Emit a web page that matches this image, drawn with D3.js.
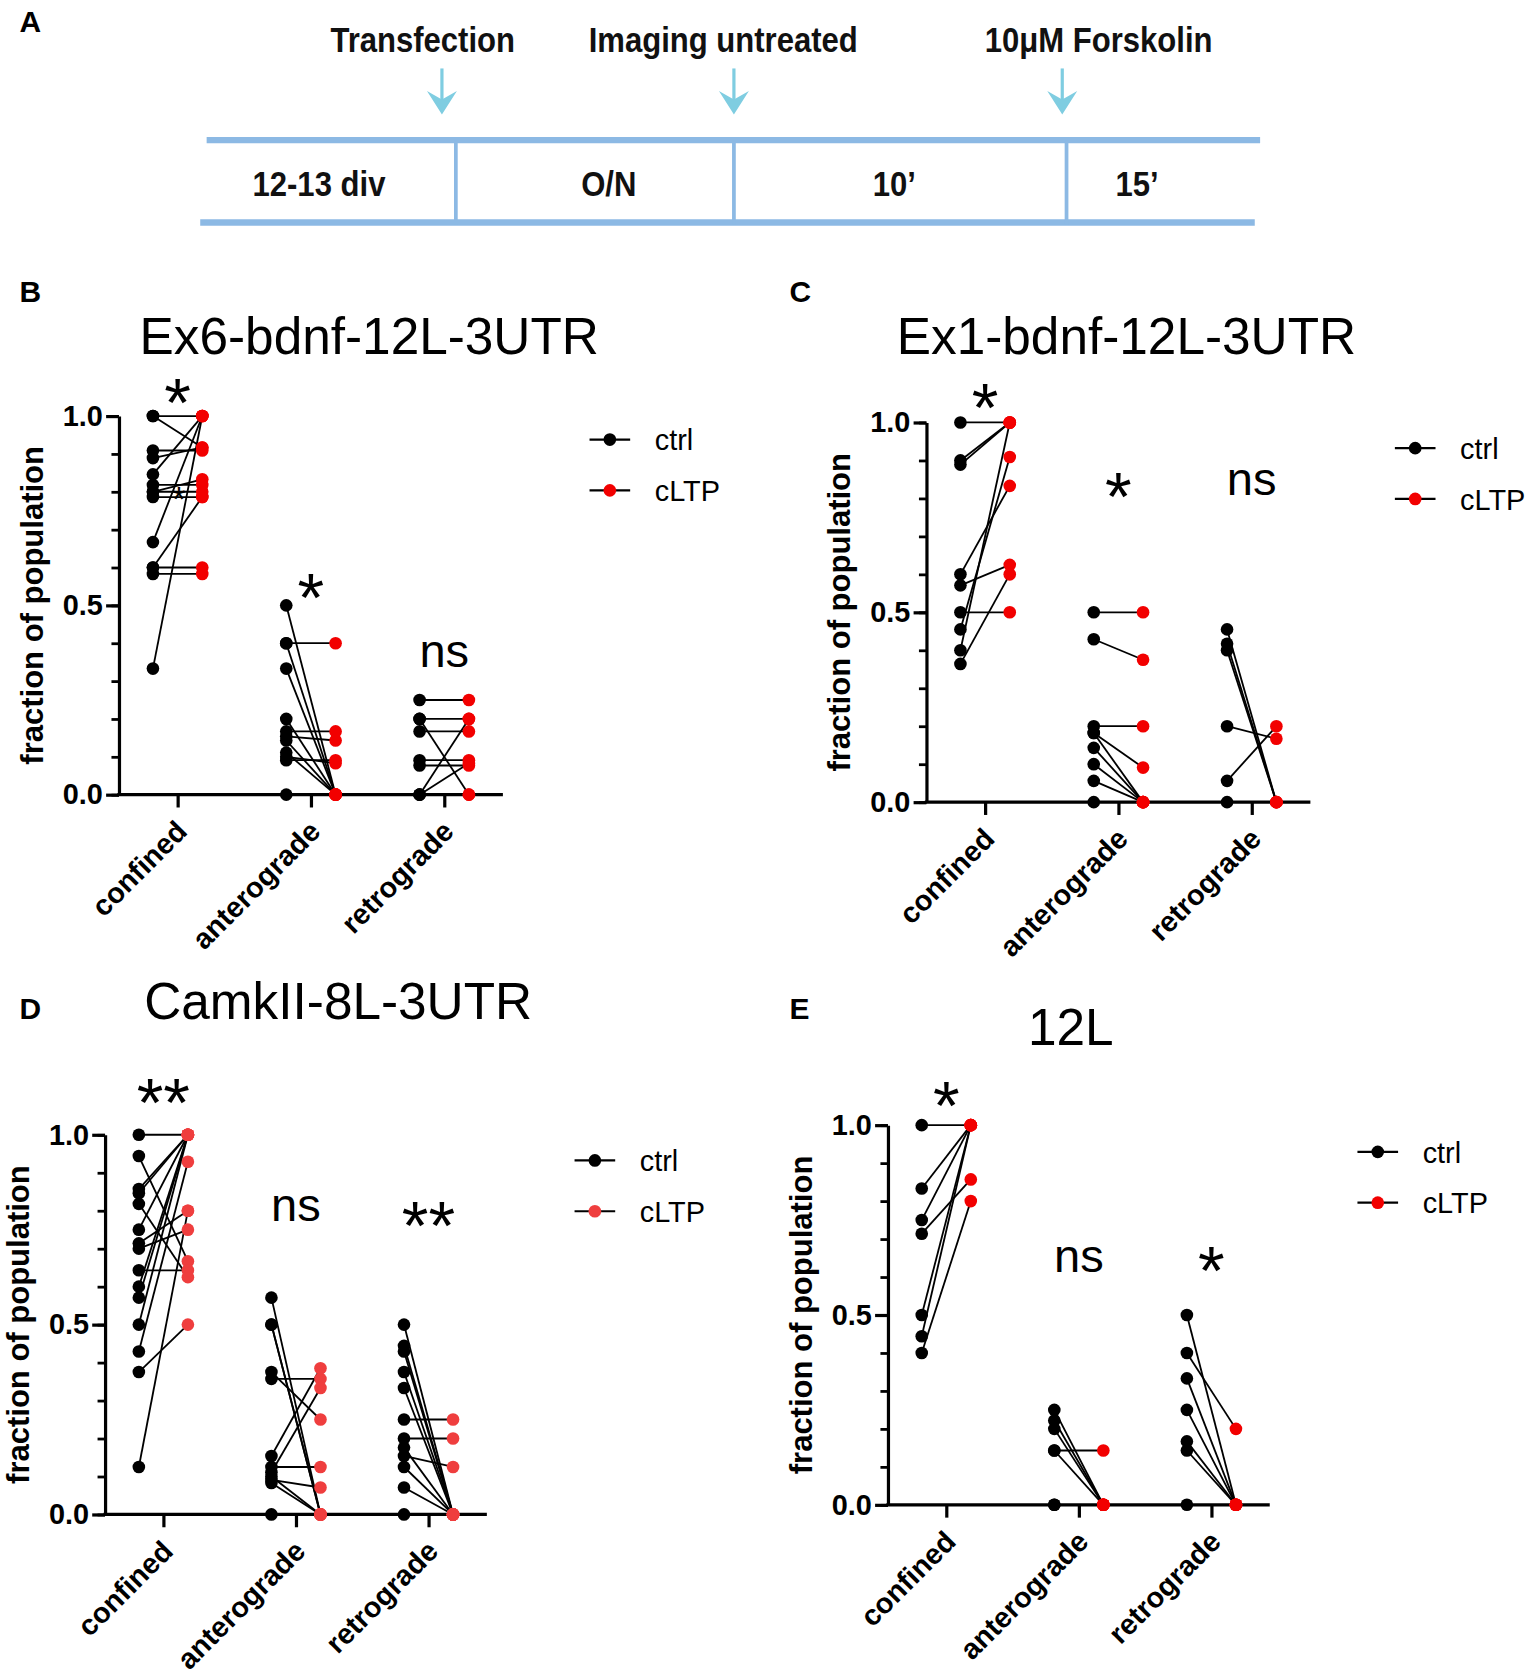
<!DOCTYPE html>
<html>
<head>
<meta charset="utf-8">
<script src="https://cdn.jsdelivr.net/npm/d3@7"></script>
<style>
  body { margin: 0; background: #fff; }
  svg { display: block; }
</style>
</head>
<body>
<div id="fig"></div>
<script>
// ---------- data ----------
var categories = ["confined", "anterograde", "retrograde"];
var seriesNames = ["ctrl", "cLTP"];
var panelTitles = ["Ex6-bdnf-12L-3UTR", "Ex1-bdnf-12L-3UTR", "CamkII-8L-3UTR", "12L"];
var yTitle = "fraction of population";
var majorTicks = [0, 0.5, 1];
var minorTicks = [0, 0.1, 0.2, 0.3, 0.4, 0.5, 0.6, 0.7, 0.8, 0.9, 1];

// panel A timeline
var eventLabels = ["Transfection", "Imaging untreated", "10\u03bcM Forskolin"];
var periodLabels = ["12-13 div", "O/N", "10\u2019", "15\u2019"];

// B  (each row = one category, ctrl[i][j] pairs with ltp[i][j])
var bCtrl = [
  [1.0, 1.0, 0.909, 0.889, 0.846, 0.818, 0.8, 0.8, 0.786, 0.667, 0.6, 0.6, 0.583, 0.333],
  [0.5, 0.4, 0.4, 0.333, 0.2, 0.167, 0.154, 0.143, 0.111, 0.1, 0.091, 0.0],
  [0.25, 0.2, 0.2, 0.167, 0.091, 0.077, 0.0, 0.0, 0.0]
];
var bLtp = [
  [1.0, 0.917, 0.909, 0.917, 1.0, 0.818, 0.8, 0.833, 0.786, 1.0, 0.6, 0.786, 0.583, 1.0],
  [0.0, 0.4, 0.0, 0.0, 0.0, 0.167, 0.143, 0.0, 0.0, 0.083, 0.091, 0.0],
  [0.25, 0.2, 0.0, 0.167, 0.091, 0.077, 0.2, 0.083, 0.0]
];
var bSig = ["*", "*", "ns"];

// C
var cCtrl = [
  [1.0, 0.9, 0.889, 0.6, 0.571, 0.5, 0.455, 0.4, 0.364],
  [0.5, 0.429, 0.2, 0.182, 0.182, 0.143, 0.1, 0.056, 0.0],
  [0.455, 0.417, 0.4, 0.2, 0.056, 0.0]
];
var cLtp = [
  [1.0, 1.0, 1.0, 0.833, 0.625, 0.5, 0.909, 1.0, 0.6],
  [0.5, 0.375, 0.2, 0.091, 0.0, 0.0, 0.0, 0.0, 0.0],
  [0.0, 0.0, 0.0, 0.167, 0.2, 0.0]
];
var cSig = ["*", "*", "ns"];

// D
var dCtrl = [
  [1.0, 0.944, 0.857, 0.846, 0.818, 0.75, 0.714, 0.7, 0.643, 0.6, 0.571, 0.5, 0.429, 0.375, 0.125],
  [0.571, 0.5, 0.5, 0.375, 0.357, 0.154, 0.125, 0.111, 0.1, 0.091, 0.083, 0.0],
  [0.5, 0.444, 0.429, 0.375, 0.333, 0.25, 0.2, 0.176, 0.154, 0.125, 0.071, 0.0]
];
var dLtp = [
  [1.0, 0.667, 1.0, 1.0, 0.625, 1.0, 0.8, 0.75, 0.643, 1.0, 1.0, 1.0, 0.929, 0.5, 0.8],
  [0.0, 0.0, 0.0, 0.25, 0.357, 0.385, 0.125, 0.333, 0.0, 0.071, 0.0, 0.0],
  [0.0, 0.0, 0.0, 0.0, 0.0, 0.25, 0.2, 0.0, 0.125, 0.0, 0.0, 0.0]
];
var dSig = ["**", "ns", "**"];

// E
var eCtrl = [
  [1.0, 0.833, 0.75, 0.714, 0.5, 0.444, 0.4],
  [0.25, 0.222, 0.2, 0.143, 0.143, 0.0, 0.0],
  [0.5, 0.4, 0.333, 0.25, 0.167, 0.143, 0.0]
];
var eLtp = [
  [1.0, 1.0, 1.0, 0.857, 1.0, 1.0, 0.8],
  [0.0, 0.0, 0.0, 0.143, 0.0, 0.0, 0.0],
  [0.0, 0.2, 0.0, 0.0, 0.0, 0.0, 0.0]
];
var eSig = ["*", "ns", "*"];

// ---------- layout ----------
var FONT = "Arial, 'Liberation Sans', sans-serif";
var svg = d3.select("#fig").append("svg")
  .attr("width", 1532).attr("height", 1677)
  .attr("viewBox", "0 0 1432 1568");

// ---------- panel A ----------
(function(){
  var blue = "#8cb9e4", cyan = "#7fcde1";
  var gA = svg.append("g");
  gA.append("text").attr("x", 18).attr("y", 30).text("A")
    .attr("font-family", FONT).attr("font-weight", "bold").attr("font-size", 28);

  var bounds = [190, 426, 686, 997, 1176];   // period boundaries
  var arrowX = [413, 686, 993];
  var eventX = [395, 676, 1027];
  var periodX = [298, 569, 836, 1063];

  // timeline rails
  gA.append("line").attr("x1", 193).attr("x2", 1178).attr("y1", 131).attr("y2", 131)
    .attr("stroke", blue).attr("stroke-width", 6);
  gA.append("line").attr("x1", 187).attr("x2", 1173).attr("y1", 208).attr("y2", 208)
    .attr("stroke", blue).attr("stroke-width", 6);
  gA.selectAll(".div").data(bounds.slice(1, 4)).enter().append("line")
    .attr("x1", function(d){ return d; }).attr("x2", function(d){ return d; })
    .attr("y1", 131).attr("y2", 210)
    .attr("stroke", blue).attr("stroke-width", 3.5);

  // arrows
  var arr = gA.selectAll(".arr").data(arrowX).enter().append("g")
    .attr("transform", function(d){ return "translate(" + d + ",0)"; });
  arr.append("line").attr("y1", 64).attr("y2", 96).attr("stroke", cyan).attr("stroke-width", 3);
  arr.append("path").attr("d", "M-14,85 L0,107 L14,85 L0,93 Z").attr("fill", cyan);

  function condensed(sel, xs, y) {
    sel.enter().append("text")
      .attr("transform", function(d, i){ return "translate(" + xs[i] + "," + y + ") scale(0.88,1)"; })
      .attr("text-anchor", "middle")
      .attr("font-family", FONT).attr("font-weight", "bold").attr("font-size", 33)
      .attr("fill", "#111")
      .text(function(d){ return d; });
  }
  condensed(gA.selectAll(".ev").data(eventLabels), eventX, 49);
  condensed(gA.selectAll(".pe").data(periodLabels), periodX, 183);
})();

// ---------- scatter panels ----------
function panel(cfg) {
  var g = svg.append("g");
  var y = d3.scaleLinear().domain([0, 1]).range([cfg.y0, cfg.y1]);
  var x = d3.scalePoint().domain(categories).range([cfg.x0, cfg.x1]).padding(0.44);
  var off = x.step() * 0.185;

  // letter + title
  g.append("text").attr("x", cfg.letter[0]).attr("y", cfg.letter[1]).text(cfg.letter[2])
    .attr("font-family", FONT).attr("font-weight", "bold").attr("font-size", 28);
  g.append("text").attr("x", cfg.title[0]).attr("y", cfg.title[1]).text(cfg.name)
    .attr("text-anchor", "middle").attr("font-family", FONT).attr("font-size", 48);

  // y axis: minor then major
  var minor = g.append("g").attr("transform", "translate(" + cfg.x0 + ",0)")
    .call(d3.axisLeft(y).tickValues(minorTicks).tickSize(7).tickFormat(""));
  minor.select(".domain").remove();
  minor.selectAll(".tick line").attr("stroke-width", 2.6);

  var major = g.append("g").attr("transform", "translate(" + cfg.x0 + ",0)")
    .call(d3.axisLeft(y).tickValues(majorTicks).tickSize(12).tickSizeOuter(0)
      .tickPadding(3).tickFormat(d3.format(".1f")));
  major.attr("font-family", FONT).attr("font-size", 27).attr("font-weight", "bold");
  major.select(".domain").attr("stroke-width", 3);
  major.selectAll(".tick line").attr("stroke-width", 3);

  // x axis
  var xa = g.append("g").attr("transform", "translate(0," + cfg.y0 + ")")
    .call(d3.axisBottom(x).tickSize(12).tickSizeOuter(0));
  xa.attr("font-family", FONT).attr("font-size", 27).attr("font-weight", "bold");
  xa.select(".domain").attr("stroke-width", 3).attr("d", "M" + (cfg.x0 - 1.5) + ",0H" + cfg.x1);
  xa.selectAll(".tick line").attr("stroke-width", 3);
  xa.selectAll(".tick text").attr("y", 0).attr("dy", 0)
    .attr("transform", "translate(10,36) rotate(-45)")
    .style("text-anchor", "end");

  // y title
  var cy = (cfg.y0 + cfg.y1) / 2;
  g.append("text").text(yTitle)
    .attr("transform", "translate(" + (cfg.x0 - 79 + 8) + "," + cy + ") rotate(-90)")
    .attr("text-anchor", "middle").attr("font-family", FONT)
    .attr("font-weight", "bold").attr("font-size", 29);

  // pairs
  var pairs = [];
  categories.forEach(function(c, i){
    cfg.ctrl[i].forEach(function(v, j){
      pairs.push({cat: c, a: v, b: cfg.ltp[i][j]});
    });
  });
  g.append("g").selectAll("line").data(pairs).enter().append("line")
    .attr("x1", function(d){ return x(d.cat) - off; })
    .attr("x2", function(d){ return x(d.cat) + off; })
    .attr("y1", function(d){ return y(d.a); })
    .attr("y2", function(d){ return y(d.b); })
    .attr("stroke", "#000").attr("stroke-width", 1.7);
  g.append("g").selectAll("circle").data(pairs).enter().append("circle")
    .attr("cx", function(d){ return x(d.cat) - off; })
    .attr("cy", function(d){ return y(d.a); })
    .attr("r", 5.9).attr("fill", "#000");
  g.append("g").selectAll("circle").data(pairs).enter().append("circle")
    .attr("cx", function(d){ return x(d.cat) + off; })
    .attr("cy", function(d){ return y(d.b); })
    .attr("r", 5.9).attr("fill", cfg.red);

  // significance
  g.selectAll(".sig").data(cfg.sig).enter().append("text")
    .attr("x", function(d, i){ return x(categories[i]); })
    .attr("y", function(d, i){ return d === "ns" ? cfg.sigY[i] + 12 : cfg.sigY[i] + 36; })
    .attr("text-anchor", "middle").attr("font-family", FONT)
    .attr("font-size", function(d){ return d === "ns" ? 44 : 64; })
    .text(function(d){ return d; });

  if (cfg.note) {
    g.append("text").attr("x", cfg.note[0]).attr("y", cfg.note[1]).text("*")
      .attr("text-anchor", "middle").attr("font-family", FONT).attr("font-size", 32);
  }

  // legend
  var lg = g.selectAll(".leg").data(seriesNames).enter().append("g")
    .attr("transform", function(d, i){ return "translate(" + cfg.legend[0] + "," + (cfg.legend[1] + i * 47.5) + ")"; });
  lg.append("line").attr("x1", -19).attr("x2", 19).attr("stroke", "#000").attr("stroke-width", 2);
  lg.append("circle").attr("r", 5.9).attr("fill", function(d, i){ return i ? cfg.red : "#000"; });
  lg.append("text").attr("x", 42).attr("y", 10).text(function(d){ return d; })
    .attr("font-family", FONT).attr("font-size", 27);
}

panel({name: panelTitles[0], ctrl: bCtrl, ltp: bLtp, sig: bSig, red: "#f20000",
  x0: 111, x1: 470, y0: 743, y1: 389, letter: [18, 282, "B"], title: [345, 331],
  sigY: [362, 545, 612], legend: [570, 411], note: [167, 478]});
panel({name: panelTitles[1], ctrl: cCtrl, ltp: cLtp, sig: cSig, red: "#f20000",
  x0: 866, x1: 1225, y0: 750, y1: 395, letter: [738, 282, "C"], title: [1053, 331],
  sigY: [367, 450, 451], legend: [1323, 419]});
panel({name: panelTitles[2], ctrl: dCtrl, ltp: dLtp, sig: dSig, red: "#ef3e3e",
  x0: 98, x1: 455, y0: 1416, y1: 1061, letter: [18, 953, "D"], title: [316, 953],
  sigY: [1017, 1130, 1132], legend: [556, 1085]});
panel({name: panelTitles[3], ctrl: eCtrl, ltp: eLtp, sig: eSig, red: "#f20000",
  x0: 830, x1: 1187, y0: 1407, y1: 1052, letter: [738, 953, "E"], title: [1001, 977],
  sigY: [1020, 1177, 1174], legend: [1288, 1077]});
</script>
</body>
</html>
